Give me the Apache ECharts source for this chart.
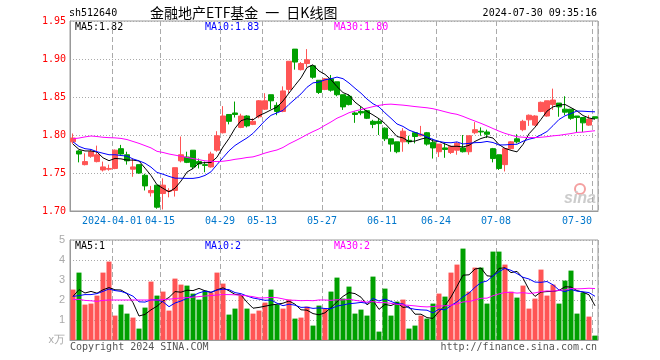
<!DOCTYPE html>
<html><head><meta charset="utf-8">
<script src="https://cdn.jsdelivr.net/npm/echarts@6.0.0/dist/echarts.min.js"></script>
<style>html,body{margin:0;padding:0;background:#fff}#c{width:660px;height:360px}</style>
</head><body><div id="c"></div>
<script>
const year = '2024';
const dates = ['03-21','03-22','03-25','03-26','03-27','03-28','03-29',
'04-01','04-02','04-03','04-08','04-09','04-10','04-11','04-12','04-15','04-16','04-17','04-18','04-19','04-22','04-23','04-24','04-25','04-26','04-29','04-30',
'05-06','05-07','05-08','05-09','05-10','05-13','05-14','05-15','05-16','05-17','05-20','05-21','05-22','05-23','05-24','05-27','05-28','05-29','05-30','05-31',
'06-03','06-04','06-05','06-06','06-07','06-11','06-12','06-13','06-14','06-17','06-18','06-19','06-20','06-21','06-24','06-25','06-26','06-27','06-28',
'07-01','07-02','07-03','07-04','07-05','07-08','07-09','07-10','07-11','07-12','07-15','07-16','07-17','07-18','07-19','07-22','07-23','07-24','07-25','07-26','07-29','07-30'];
const tickDates = ['04-01','04-15','04-29','05-13','05-27','06-11','06-24','07-08','07-30'];

const opens = [1.791,1.779,1.761,1.772,1.765,1.754,1.755,1.756,1.782,1.774,
1.755,1.761,1.747,1.724,1.734,1.723,1.726,1.727,1.766,1.771,
1.780,1.765,1.761,1.758,1.780,1.803,1.827,1.829,1.810,1.825,
1.814,1.824,1.834,1.853,1.839,1.831,1.860,1.913,1.886,1.894,
1.891,1.872,1.860,1.874,1.870,1.853,1.851,1.829,1.831,1.832,
1.818,1.818,1.809,1.795,1.791,1.791,1.793,1.803,1.799,1.803,
1.790,1.778,1.783,1.777,1.780,1.783,1.778,1.803,1.805,1.804,
1.782,1.774,1.761,1.782,1.795,1.807,1.820,1.813,1.831,1.825,
1.840,1.842,1.834,1.834,1.825,1.823,1.813,1.824];
const closes = [1.796,1.775,1.765,1.778,1.774,1.758,1.756,1.780,1.775,1.766,
1.758,1.750,1.733,1.727,1.705,1.734,1.727,1.757,1.774,1.764,
1.758,1.762,1.760,1.775,1.799,1.825,1.818,1.827,1.825,1.812,
1.818,1.845,1.845,1.845,1.831,1.858,1.897,1.896,1.894,1.899,
1.876,1.856,1.874,1.859,1.853,1.837,1.840,1.827,1.829,1.822,
1.814,1.815,1.795,1.788,1.778,1.805,1.791,1.798,1.801,1.788,
1.783,1.788,1.781,1.785,1.789,1.778,1.799,1.807,1.804,1.801,
1.769,1.756,1.782,1.791,1.791,1.818,1.826,1.825,1.843,1.845,
1.846,1.837,1.830,1.822,1.823,1.816,1.821,1.822];
const lows = [1.788,1.764,1.760,1.770,1.764,1.752,1.753,1.755,1.774,1.761,
1.745,1.749,1.727,1.719,1.703,1.702,1.718,1.719,1.764,1.763,
1.755,1.756,1.751,1.757,1.778,1.802,1.814,1.823,1.809,1.810,
1.813,1.822,1.833,1.834,1.826,1.830,1.855,1.886,1.885,1.889,
1.874,1.854,1.859,1.857,1.851,1.833,1.839,1.816,1.826,1.821,
1.809,1.800,1.792,1.778,1.776,1.778,1.788,1.789,1.798,1.786,
1.769,1.771,1.770,1.775,1.774,1.777,1.774,1.801,1.799,1.796,
1.764,1.754,1.752,1.781,1.789,1.805,1.812,1.812,1.830,1.824,
1.833,1.824,1.826,1.820,1.804,1.804,1.812,1.821];
const highs = [1.802,1.780,1.776,1.781,1.786,1.765,1.761,1.781,1.787,1.778,
1.769,1.761,1.749,1.733,1.734,1.743,1.730,1.757,1.798,1.778,
1.780,1.769,1.765,1.778,1.805,1.838,1.827,1.844,1.828,1.826,
1.822,1.846,1.855,1.853,1.843,1.864,1.897,1.913,1.896,1.913,
1.891,1.872,1.875,1.879,1.870,1.853,1.853,1.831,1.837,1.833,
1.820,1.822,1.810,1.795,1.791,1.809,1.799,1.804,1.812,1.804,
1.795,1.788,1.789,1.786,1.791,1.800,1.799,1.817,1.810,1.807,
1.783,1.774,1.783,1.792,1.801,1.820,1.827,1.826,1.844,1.845,
1.861,1.842,1.851,1.834,1.825,1.823,1.826,1.824];
const volumes = [2.52,3.37,1.77,1.82,2.22,3.37,3.92,1.22,1.77,1.32,
1.12,0.57,1.62,2.92,2.22,2.42,1.47,3.07,2.77,2.72,
2.32,2.02,2.47,2.37,3.37,2.82,1.27,1.57,2.22,1.57,
1.32,1.47,1.87,2.52,1.77,1.57,2.02,1.07,1.12,1.67,
0.72,1.72,1.57,2.42,3.12,2.07,2.67,1.32,1.52,1.22,
3.17,0.42,2.57,1.22,1.92,2.02,0.57,0.72,1.22,1.07,
1.82,2.32,2.17,3.37,3.77,4.57,2.42,3.62,3.62,1.82,
4.42,4.42,3.77,2.42,2.12,2.72,1.57,2.07,3.52,2.22,
2.77,1.82,2.97,3.47,1.32,2.37,1.17,0.22];

// moving-average values before enough history exists
const ma5Head = [1.788,1.781,1.779,1.779];
const ma10Head = [1.791,1.785,1.782,1.781,1.778,1.776,1.774,1.774,1.773];
const ma30Head = [1.795,1.796,1.7975,1.7987,1.798,1.797,1.7965,1.7962,1.7955,1.794,
1.7915,1.789,1.786,1.783,1.7785,1.777,1.775,1.7735,1.772,1.7705,
1.769,1.7675,1.766,1.7655,1.765,1.7655,1.7665,1.768,1.769];
const vma5Head = [2.18,2.52,2.35,2.43];
const vma10Head = [2.18,2.22,2.27,2.27,2.32,2.43,2.55,2.47,2.43];
const vma30Head = [2.02,2.03,1.98,1.96,1.93,1.98,2.00,2.00,2.00,2.00,2.00,2.00,2.00,2.00,2.00,
2.02,2.04,2.07,2.10,2.12,2.14,2.17,2.20,2.22,2.25,2.27,2.27,2.26,2.24];

function movingAvg(arr, n, head) {
  return arr.map((v, i) => {
    if (i < n - 1) return head[i];
    let s = 0; for (let k = i - n + 1; k <= i; k++) s += arr[k];
    return +(s / n).toFixed(4);
  });
}
const ma5 = movingAvg(closes, 5, ma5Head), ma10 = movingAvg(closes, 10, ma10Head), ma30 = movingAvg(closes, 30, ma30Head);
const vma5 = movingAvg(volumes, 5, vma5Head), vma10 = movingAvg(volumes, 10, vma10Head), vma30 = movingAvg(volumes, 30, vma30Head);

const UP = '#ff5555', DOWN = '#00a000';
const mono = 'DejaVu Sans Mono';
const GRIDC = '#aaaaaa';
const isTick = (idx, val) => tickDates.indexOf(val) >= 0;
const rich = {
  a: {padding: [0, 6, 0, 0], color: '#0077cc', fontFamily: mono, fontSize: 10},
  e: {padding: [0, 36, 0, 0], color: '#0077cc', fontFamily: mono, fontSize: 10}
};
const labelFmt = (val) => {
  if (val === tickDates[0]) return '{a|' + year + '-' + val + '}';
  if (val === tickDates[tickDates.length - 1]) return '{e|' + val + '}';
  return '{a|' + val + '}';
};
const candleData = opens.map((o, i) => [o, closes[i], lows[i], highs[i]]);
const volData = volumes.map((v, i) => ({value: v, itemStyle: {color: closes[i] >= opens[i] ? UP : DOWN}}));
const last = a => a[a.length - 1];
const trunc2 = v => (Math.floor(v * 100 + 1e-9) / 100).toFixed(2);

const chart = echarts.init(document.getElementById('c'));
const lineS = (name, data, color, xi, yi) => ({
  name, type: 'line', data, xAxisIndex: xi, yAxisIndex: yi, symbol: 'none', silent: true,
  lineStyle: {color, width: 1}, itemStyle: {color}, z: 5, animation: false
});
const txt = (x, y, text, color, extra) => ({type: 'text', x, y, silent: true,
  style: Object.assign({text, fill: color, font: '10px "' + mono + '"', textVerticalAlign: 'middle'}, extra || {})});

const gridBase = {left: 70, width: 528, show: true, borderColor: '#999', borderWidth: 1, backgroundColor: 'transparent', containLabel: false, outerBoundsMode: 'none'};
const option = {
  animation: false,
  backgroundColor: '#ffffff',
  grid: [Object.assign({top: 21, height: 190}, gridBase), Object.assign({top: 240, height: 100}, gridBase)],
  xAxis: [
    {type: 'category', gridIndex: 0, data: dates, boundaryGap: true,
     axisLine: {lineStyle: {color: '#999'}}, axisTick: {show: false},
     axisLabel: {interval: isTick, formatter: labelFmt, rich, margin: 5, hideOverlap: false, color: '#0077cc', fontFamily: mono, fontSize: 10},
     splitLine: {show: true, interval: isTick, lineStyle: {color: GRIDC, type: [5, 3], width: 1}}},
    {type: 'category', gridIndex: 1, data: dates, boundaryGap: true,
     axisLine: {lineStyle: {color: '#999'}}, axisTick: {show: false}, axisLabel: {show: false},
     splitLine: {show: true, interval: isTick, lineStyle: {color: GRIDC, type: [5, 3], width: 1}}}
  ],
  yAxis: [
    {type: 'value', gridIndex: 0, min: 1.70, max: 1.95, interval: 0.05,
     axisLine: {show: true, lineStyle: {color: '#999'}}, axisTick: {show: false},
     axisLabel: {color: '#ff0000', fontFamily: mono, fontSize: 10, margin: 4, formatter: v => v.toFixed(2)},
     splitLine: {show: true, lineStyle: {color: GRIDC, type: [1, 2], width: 1}}},
    {type: 'value', gridIndex: 1, min: 0, max: 5, interval: 1,
     axisLine: {show: true, lineStyle: {color: '#999'}}, axisTick: {show: false},
     axisLabel: {color: '#aaaaaa', fontFamily: 'Liberation Sans', fontSize: 11, margin: 5, formatter: v => v === 0 ? 'x万' : String(v)},
     splitLine: {show: true, lineStyle: {color: GRIDC, type: [1, 2], width: 1}}}
  ],
  series: [
    {type: 'candlestick', name: 'K', data: candleData, xAxisIndex: 0, yAxisIndex: 0, barWidth: 5, silent: true,
     itemStyle: {color: UP, color0: DOWN, borderColor: UP, borderColor0: DOWN, borderWidth: 1}},
    lineS('MA5', ma5, '#000000', 0, 0),
    lineS('MA10', ma10, '#0000ff', 0, 0),
    lineS('MA30', ma30, '#ff00ff', 0, 0),
    {type: 'bar', name: 'VOL', data: volData, xAxisIndex: 1, yAxisIndex: 1, barWidth: 5, silent: true},
    lineS('VMA5', vma5, '#000000', 1, 1),
    lineS('VMA10', vma10, '#0000ff', 1, 1),
    lineS('VMA30', vma30, '#ff00ff', 1, 1)
  ],
  graphic: [
    txt(69, 13, 'sh512640', '#000'),
    {type: 'text', x: 150, y: 13, silent: true, style: {text: '金融地产ETF基金\u2002一\u2002日K线图', fill: '#000', font: '14px "Noto Sans CJK SC"', textVerticalAlign: 'middle'}},
    txt(597, 13, '2024-07-30 09:35:16', '#000', {textAlign: 'right'}),
    txt(75, 27, 'MA5:' + trunc2(last(ma5)), '#000'),
    txt(205, 27, 'MA10:' + trunc2(last(ma10)), '#0000ff'),
    txt(334, 27, 'MA30:' + trunc2(last(ma30)), '#ff00ff'),
    txt(75, 246, 'MA5:' + Math.floor(last(vma5)), '#000'),
    txt(205, 246, 'MA10:' + Math.floor(last(vma10)), '#0000ff'),
    txt(334, 246, 'MA30:' + Math.floor(last(vma30)), '#ff00ff'),
    txt(70, 347, 'Copyright 2024 SINA.COM', '#555'),
    txt(597, 347, 'http://finance.sina.com.cn', '#555', {textAlign: 'right'}),
    {type: 'circle', shape: {cx: 580, cy: 189, r: 5}, silent: true, style: {fill: 'none', stroke: '#f4a0a0', lineWidth: 2}},
    {type: 'text', x: 564, y: 199, silent: true, style: {text: 'sina', fill: '#cccccc', font: 'italic bold 16px "Liberation Sans"', textVerticalAlign: 'middle'}}
  ]
};
chart.setOption(option);
</script></body></html>
